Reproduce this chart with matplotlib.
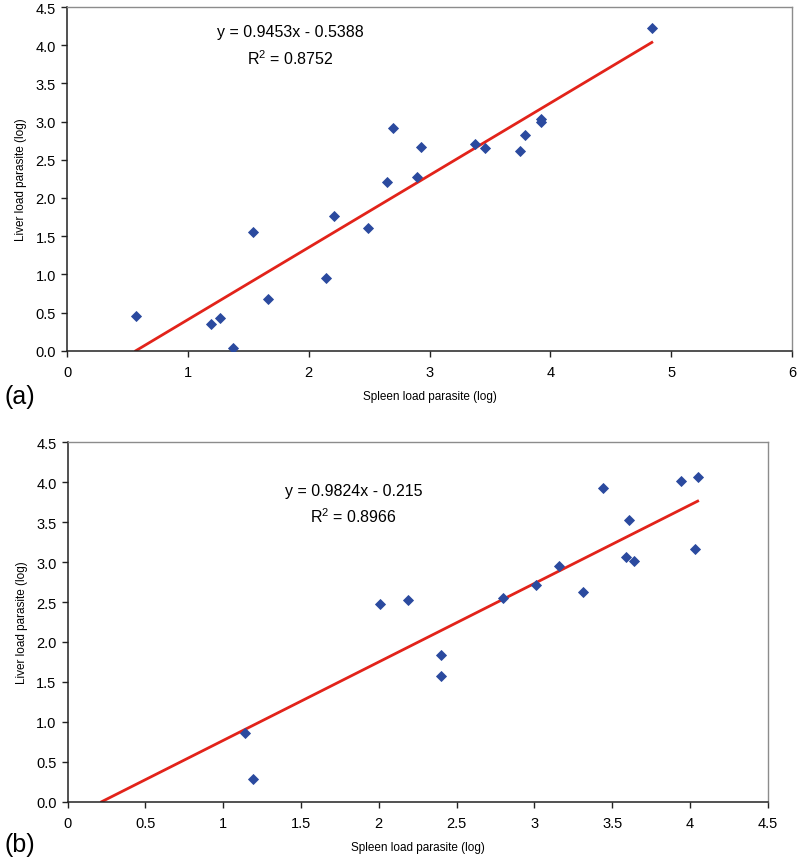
import matplotlib
matplotlib.use("Agg")
import matplotlib.pyplot as plt
import numpy as np

plt.rcParams['font.family'] = ['Liberation Sans', 'DejaVu Sans']
plt.rcParams['mathtext.fontset'] = 'custom'
plt.rcParams['mathtext.rm'] = 'Liberation Sans'
plt.rcParams['mathtext.default'] = 'regular'

# panel (a)
spleen_a = [0.57, 1.19, 1.27, 1.37, 1.54, 1.66, 2.14, 2.21, 2.49, 2.65,
            2.70, 2.90, 2.93, 3.38, 3.46, 3.75, 3.79, 3.92, 3.92, 4.84]
liver_a = [0.45, 0.35, 0.43, 0.03, 1.56, 0.68, 0.95, 1.76, 1.61, 2.21,
           2.92, 2.28, 2.67, 2.71, 2.66, 2.62, 2.82, 3.03, 3.00, 4.23]
slope_a, icpt_a = 0.9453, -0.5388
eq_a = "y = 0.9453x - 0.5388"
r2_a = "R$^2$ = 0.8752"

# panel (b)
spleen_b = [1.14, 1.19, 2.01, 2.19, 2.40, 2.40, 2.80, 3.01, 3.16, 3.31,
            3.44, 3.59, 3.61, 3.64, 3.94, 4.03, 4.05]
liver_b = [0.86, 0.28, 2.47, 2.52, 1.84, 1.58, 2.55, 2.71, 2.95, 2.63,
           3.93, 3.07, 3.53, 3.02, 4.01, 3.16, 4.06]
slope_b, icpt_b = 0.9824, -0.215
eq_b = "y = 0.9824x - 0.215"
r2_b = "R$^2$ = 0.8966"

x_label = "Spleen load parasite (log)"
y_label = "Liver load parasite (log)"

blue = "#2B4A9F"
red = "#E2231A"

fig = plt.figure(figsize=(7.97, 8.62), dpi=100)
ax_a = fig.add_axes([0.0841, 0.592, 0.9096, 0.3987])
ax_b = fig.add_axes([0.0849, 0.0688, 0.8783, 0.4169])


def draw(ax, xs, ys, slope, icpt, eq, r2, xmax, xstep, eq_pos):
    ax.plot(xs, ys, linestyle="none", marker="D", ms=4.7,
            mfc=blue, mec=blue, mew=0.6, zorder=3)
    # trendline from x-intercept (y=0) to largest x
    x0 = max(0.0, -icpt / slope)
    x1 = max(xs)
    lx = np.array([x0, x1])
    ax.plot(lx, slope * lx + icpt, color=red, lw=2.0, zorder=2)

    ax.set_xlim(0, xmax)
    ax.set_ylim(0, 4.5)
    xt = np.arange(0, xmax + 1e-9, xstep)
    ax.set_xticks(xt)
    ax.set_xticklabels(["%g" % v for v in xt])
    ax.set_yticks(np.arange(0, 4.51, 0.5))
    ax.set_yticklabels(["%.1f" % v for v in np.arange(0, 4.51, 0.5)])
    ax.tick_params(axis="both", direction="out", length=4, width=1,
                   labelsize=10.5, color="#222222")
    ax.tick_params(axis="x", pad=6)
    ax.tick_params(axis="y", pad=4)
    for s in ("left", "bottom"):
        ax.spines[s].set_color("#222222")
        ax.spines[s].set_linewidth(1.1)
    for s in ("top", "right"):
        ax.spines[s].set_color("#8c8c8c")
        ax.spines[s].set_linewidth(1.0)
    ax.set_xlabel(x_label, fontsize=8.5, labelpad=8)
    ax.set_ylabel(y_label, fontsize=8.5, labelpad=6)
    ax.text(eq_pos[0], eq_pos[1], eq, fontsize=11.5, ha="center", va="center")
    ax.text(eq_pos[0], eq_pos[2], r2, fontsize=11.5, ha="center", va="center")


draw(ax_a, spleen_a, liver_a, slope_a, icpt_a, eq_a, r2_a, 6, 1, (1.85, 4.18, 3.84))
draw(ax_b, spleen_b, liver_b, slope_b, icpt_b, eq_b, r2_b, 4.5, 0.5, (1.84, 3.90, 3.58))

fig.text(5 / 797, 1 - 397 / 862, "(a)", fontsize=18, ha="left", va="center")
fig.text(5 / 797, 1 - 845 / 862, "(b)", fontsize=18, ha="left", va="center")

fig.savefig("out.png", dpi=100)
